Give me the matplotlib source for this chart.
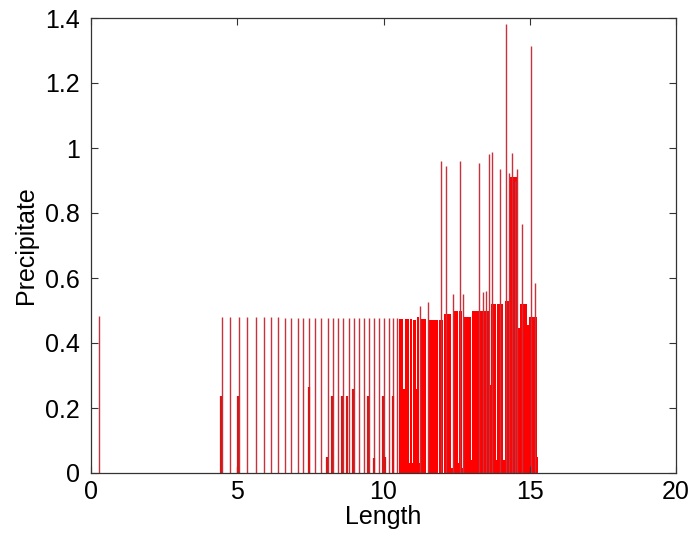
import numpy as np
import matplotlib
matplotlib.use('Agg')
import matplotlib.pyplot as plt

plt.rcParams['font.family'] = ['Liberation Sans', 'DejaVu Sans']

# isolated precipitate bands (tall, evenly spaced lines)
band_x = [0.28, 4.47, 4.75, 5.06, 5.34, 5.63, 5.91, 6.14, 6.38, 6.63, 6.84,
          7.07, 7.26, 7.46, 7.66, 7.85, 8.09, 8.26, 8.43, 8.63, 8.82, 9.00,
          9.17, 9.34, 9.51, 9.69, 9.85, 10.02, 10.19, 10.31, 10.46]
band_h = [0.482, 0.480, 0.480, 0.480, 0.480, 0.480, 0.479, 0.479, 0.479, 0.478,
          0.478, 0.478, 0.478, 0.478, 0.478, 0.477, 0.477, 0.477, 0.477, 0.477,
          0.477, 0.477, 0.477, 0.477, 0.477, 0.476, 0.476, 0.476, 0.476, 0.476,
          0.476]

# shorter secondary bands
minor_x = [4.44, 5.01, 5.04, 7.45, 8.08, 8.23, 8.57, 8.76, 8.97, 9.48, 9.69,
           9.99, 10.05, 10.34]
minor_h = [0.237, 0.02, 0.237, 0.265, 0.05, 0.238, 0.237, 0.237, 0.258, 0.237,
           0.045, 0.237, 0.05, 0.237]

# dense precipitate zone (bin edges and heights)
dense_edges = [10.52, 10.68, 10.72, 10.86, 10.90, 10.97, 11.01, 11.11, 11.15,
               11.23, 11.27, 11.47, 11.51, 11.87, 11.91, 12.02, 12.06, 12.32,
               12.36, 12.55, 12.59, 12.67, 12.71, 12.98, 13.02, 13.64, 13.68,
               13.85, 13.89, 14.10, 14.14, 14.28, 14.60, 14.66, 14.92, 14.97,
               15.24, 15.29]
dense_h = [0.475, 0.26, 0.475, 0.03, 0.475, 0.03, 0.47, 0.26, 0.48, 0.03,
           0.475, 0.0, 0.47, 0.0, 0.47, 0.0, 0.49, 0.015, 0.50, 0.03, 0.50,
           0.015, 0.48, 0.04, 0.50, 0.27, 0.52, 0.04, 0.52, 0.04, 0.53, 0.91,
           0.446, 0.52, 0.455, 0.48, 0.05]

# tall spikes and peaks above the dense zone
spike_x = [11.25, 11.53, 11.96, 12.14, 12.39, 12.62, 12.73, 13.25, 13.41, 13.50,
           13.62, 13.71, 13.98, 14.19, 14.30, 14.39, 14.49, 14.57, 14.74, 15.04,
           15.19]
spike_h = [0.514, 0.527, 0.961, 0.945, 0.55, 0.961, 0.55, 0.953, 0.558, 0.56,
           0.982, 0.989, 0.935, 1.381, 0.924, 0.986, 0.90, 0.934, 0.766, 1.315,
           0.584]

fig = plt.figure(figsize=(6.91, 5.44), dpi=100)
ax = fig.add_axes([91/691, 71/544, 585/691, 455/544])

edges = np.array(dense_edges)
ax.bar(edges[:-1], dense_h, width=np.diff(edges), align='edge',
       color='#ff0000', linewidth=0)
ax.vlines(band_x, 0, band_h, color='#c8323c', linewidth=1.0)
ax.vlines(minor_x, 0, minor_h, color='#d41818', linewidth=1.6)
ax.vlines(spike_x, 0, spike_h, color='#c8323c', linewidth=1.0)

ax.set_xlim(0, 20)
ax.set_ylim(0, 1.4)
ax.set_xticks([0, 5, 10, 15, 20])
ax.set_yticks([0, 0.2, 0.4, 0.6, 0.8, 1.0, 1.2, 1.4])
ax.set_yticklabels(['0', '0.2', '0.4', '0.6', '0.8', '1', '1.2', '1.4'])
ax.tick_params(direction='in', length=5, width=0.8, top=True, right=True,
               labelsize=18, color='#333333')
ax.tick_params(axis='x', pad=5)
ax.tick_params(axis='y', pad=8)
for s in ax.spines.values():
    s.set_color('#333333')
    s.set_linewidth(0.9)

ax.set_xlabel('Length', fontsize=18, labelpad=1)
ax.set_ylabel('Precipitate', fontsize=18, labelpad=5)

fig.savefig('out.png', dpi=100)
